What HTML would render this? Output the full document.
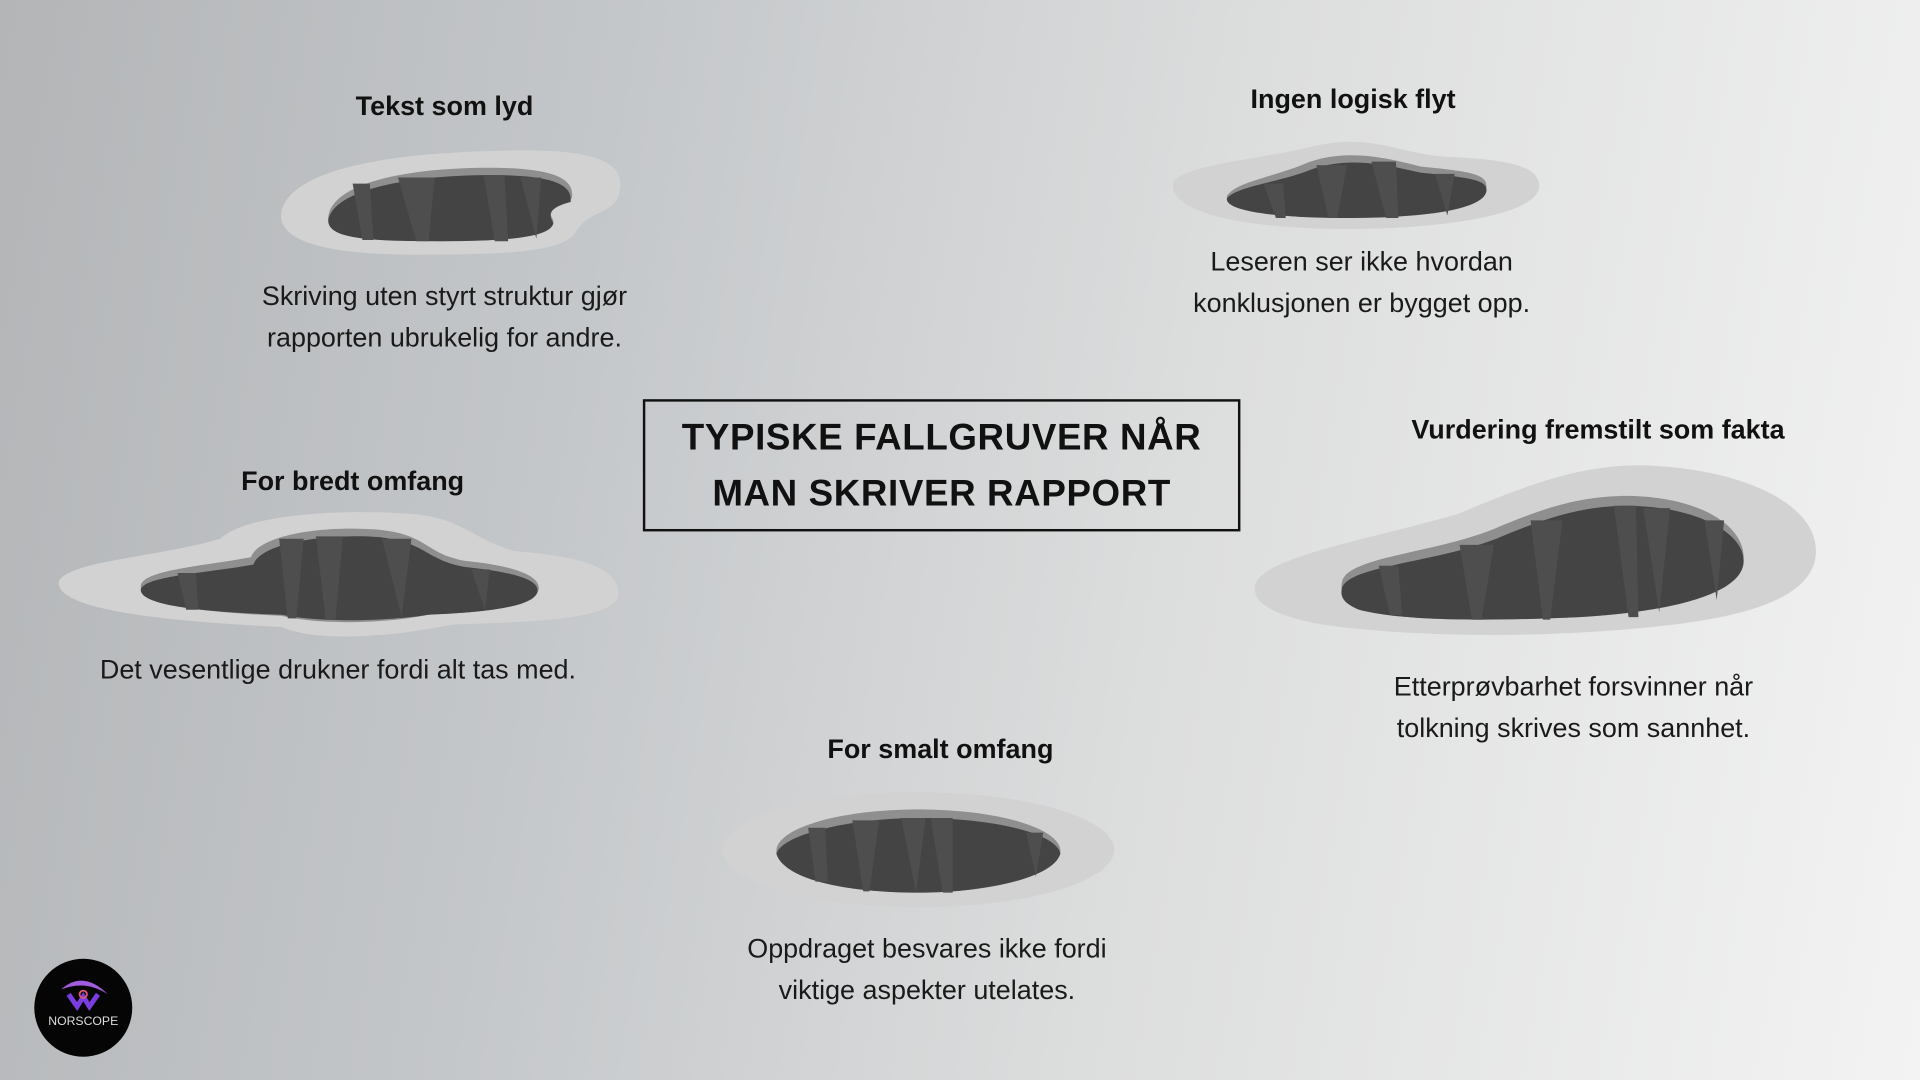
<!DOCTYPE html>
<html><head><meta charset="utf-8"><style>
html,body{margin:0;padding:0;width:1920px;height:1080px;overflow:hidden}
body{background:linear-gradient(100deg,#b3b5b7 0%,#c4c7ca 30%,#dcdddd 60%,#f3f3f3 100%);font-family:"Liberation Sans",sans-serif;}
#s{position:absolute;left:0;top:0;width:1568px;height:882px;transform:scale(1.22449);transform-origin:0 0}
.t{position:absolute;text-align:center;color:#111;white-space:nowrap}
.h{font-weight:bold;font-size:22px}
.b{font-size:22px;line-height:34px;color:#1a1a1a}
#box{position:absolute;left:525px;top:326px;width:484px;height:104px;border:2px solid #111;text-align:center;font-weight:bold;font-size:30px;line-height:46px;letter-spacing:0.5px;color:#111;box-sizing:content-box}
</style></head><body><div id="s">
<svg width="1568" height="882" style="position:absolute;left:0;top:0">
<!-- hole 1 -->
<path d="M230,172 C240,135 330,124 420,123 C480,122 515,130 505,160 C500,175 480,172 470,190 C460,205 420,208 340,208 C260,208 225,195 230,172Z" fill="#d2d2d2"/>
<path d="M268,178 C270,150 330,137 400,137 C450,137 470,145 467,162 C455,165 445,170 452,180 C450,192 420,197 360,197 C300,197 268,195 268,178Z" fill="#8f8f8f"/>
<path d="M268,180 C272,156 330,143 400,143 C450,143 468,150 466,165 C455,168 445,172 452,182 C450,193 420,197 360,197 C300,197 268,195 268,180Z" fill="#444"/>
<g fill="#4e4e4e"><polygon points="288,150 302,150 305,196 296,196"/><polygon points="325,145 355,145 350,197 340,197"/><polygon points="395,143 412,143 415,197 404,197"/><polygon points="425,145 442,145 438,195"/></g>
<!-- hole 2 -->
<path d="M958,150 C962,135 1030,130 1070,120 C1120,108 1140,125 1180,128 C1230,130 1257,135 1257,152 C1257,175 1180,187 1100,187 C1010,187 955,172 958,150Z" fill="#d2d2d2"/>
<path d="M1002,160 C1010,148 1040,145 1070,132 C1100,122 1130,128 1160,136 C1200,140 1214,142 1214,152 C1214,168 1170,178 1100,178 C1040,178 1000,172 1002,160Z" fill="#8f8f8f"/>
<path d="M1002,162 C1010,152 1045,149 1072,138 C1102,128 1130,134 1160,141 C1200,145 1214,147 1214,155 C1214,170 1170,178 1100,178 C1040,178 1000,172 1002,162Z" fill="#444"/>
<g fill="#4e4e4e"><polygon points="1032,150 1048,150 1050,178 1042,178"/><polygon points="1075,135 1100,135 1092,178 1085,178"/><polygon points="1120,132 1140,132 1142,178 1132,178"/><polygon points="1172,142 1188,142 1182,176"/></g>
<!-- hole 3 -->
<path d="M48,475 C55,458 130,455 180,440 C200,420 280,415 340,420 C380,425 385,440 420,450 C480,455 505,465 505,485 C505,505 440,508 370,510 C320,520 260,525 230,512 C150,508 45,500 48,475Z" fill="#d2d2d2"/>
<path d="M115,478 C118,465 170,462 205,455 C210,440 250,430 300,432 C350,434 345,452 380,458 C420,462 440,470 440,480 C440,495 400,500 350,502 C310,510 260,510 230,503 C170,500 113,495 115,478Z" fill="#8f8f8f"/>
<path d="M115,481 C120,470 170,468 207,461 C212,446 252,437 300,438 C348,440 345,457 380,463 C418,467 439,473 439,482 C439,495 400,500 350,502 C310,508 260,508 230,502 C170,500 113,495 115,481Z" fill="#444"/>
<g fill="#4e4e4e"><polygon points="145,468 160,468 162,498 152,498"/><polygon points="228,440 248,440 242,505 235,505"/><polygon points="258,438 280,438 274,506 266,506"/><polygon points="312,440 336,440 328,504"/><polygon points="385,465 400,465 396,498"/></g>
<!-- hole 4 -->
<path d="M1025,478 C1030,455 1120,440 1190,420 C1250,395 1290,380 1340,380 C1420,382 1483,410 1483,450 C1483,490 1420,505 1350,512 C1250,522 1150,520 1080,510 C1040,503 1022,492 1025,478Z" fill="#d2d2d2"/>
<path d="M1096,475 C1100,455 1170,452 1220,432 C1260,415 1290,405 1330,405 C1390,406 1424,430 1424,455 C1424,485 1360,500 1290,504 C1200,508 1140,506 1110,498 C1098,492 1094,485 1096,475Z" fill="#8f8f8f"/>
<path d="M1096,480 C1102,462 1170,460 1222,440 C1262,423 1292,413 1330,413 C1388,414 1424,436 1424,458 C1424,486 1360,500 1290,504 C1200,508 1140,506 1110,498 C1098,493 1094,488 1096,480Z" fill="#444"/>
<g fill="#4e4e4e"><polygon points="1126,462 1142,462 1145,502 1135,502"/><polygon points="1192,445 1220,445 1210,506 1202,506"/><polygon points="1250,425 1276,425 1266,506 1260,506"/><polygon points="1318,413 1336,413 1338,504 1330,504"/><polygon points="1342,415 1364,415 1355,500"/><polygon points="1392,425 1408,425 1402,490"/></g>
<!-- hole 5 -->
<ellipse cx="750" cy="694" rx="160" ry="47" fill="#d2d2d2"/>
<ellipse cx="750" cy="695" rx="116" ry="34" fill="#8f8f8f"/>
<path d="M634,697 C640,680 700,668 750,668 C810,668 862,680 866,697 C860,718 800,729 750,729 C690,729 640,718 634,697Z" fill="#444"/>
<g fill="#4e4e4e"><polygon points="660,676 674,676 676,720 666,720"/><polygon points="696,670 718,670 710,728 705,728"/><polygon points="736,668 756,668 748,729"/><polygon points="760,668 778,668 778,729 770,729"/><polygon points="838,680 852,680 846,716"/></g>
<!-- logo -->
<circle cx="68" cy="823" r="40" fill="#050505"/>
<path d="M50,808 Q68,792 88,812 Q70,800 50,808Z" fill="#a35be0"/>
<path d="M56,812 L63,822 L68,814 L73,822 L80,812" stroke="#7a3ee0" stroke-width="4" fill="none"/>
<circle cx="68" cy="812" r="3" fill="none" stroke="#e05577" stroke-width="1.5"/>
<text x="68" y="837" text-anchor="middle" font-family="Liberation Sans" font-size="10" fill="#ddd">NORSCOPE</text>
</svg>
<div class="t h" style="left:213px;top:74px;width:300px">Tekst som lyd</div>
<div class="t b" style="left:163px;top:225px;width:400px">Skriving uten styrt struktur gjør<br>rapporten ubrukelig for andre.</div>
<div class="t h" style="left:955px;top:68px;width:300px">Ingen logisk flyt</div>
<div class="t b" style="left:912px;top:197px;width:400px">Leseren ser ikke hvordan<br>konklusjonen er bygget opp.</div>
<div class="t h" style="left:138px;top:380px;width:300px">For bredt omfang</div>
<div class="t b" style="left:26px;top:530px;width:500px">Det vesentlige drukner fordi alt tas med.</div>
<div class="t h" style="left:1105px;top:338px;width:400px">Vurdering fremstilt som fakta</div>
<div class="t b" style="left:1085px;top:544px;width:400px">Etterprøvbarhet forsvinner når<br>tolkning skrives som sannhet.</div>
<div class="t h" style="left:618px;top:599px;width:300px">For smalt omfang</div>
<div class="t b" style="left:557px;top:758px;width:400px">Oppdraget besvares ikke fordi<br>viktige aspekter utelates.</div>
<div id="box"><div style="padding-top:7px">TYPISKE FALLGRUVER NÅR<br>MAN SKRIVER RAPPORT</div></div>
</div></body></html>
